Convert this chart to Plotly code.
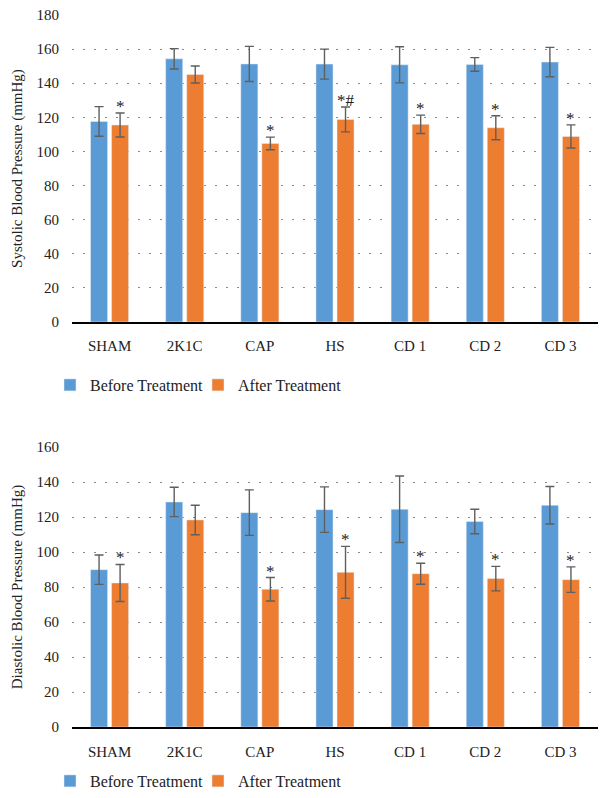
import plotly.graph_objects as go
from plotly.subplots import make_subplots

groups = ["SHAM", "2K1C", "CAP", "HS", "CD 1", "CD 2", "CD 3"]

# systolic (mmHg)
sys_before = [117.6, 154.3, 151.3, 151.2, 150.8, 151.0, 152.4]
sys_before_err = [8.7, 6.0, 10.3, 8.8, 10.6, 4.0, 8.6]
sys_after = [115.5, 145.1, 104.7, 118.8, 115.9, 113.9, 108.8]
sys_after_err = [7.0, 5.0, 3.7, 7.3, 5.4, 7.0, 6.8]
sys_marks = ["*", "", "*", "*#", "*", "*", "*"]

# diastolic (mmHg)
dia_before = [89.9, 128.6, 122.5, 124.2, 124.4, 117.4, 126.7]
dia_before_err = [8.4, 8.4, 13.0, 13.0, 19.0, 7.0, 10.7]
dia_after = [82.3, 118.3, 78.7, 88.4, 87.6, 84.8, 84.2]
dia_after_err = [10.6, 8.4, 6.7, 14.8, 6.0, 7.0, 7.3]
dia_marks = ["*", "", "*", "*", "*", "*", "*"]

BLUE = "#5B9BD5"
ORANGE = "#ED7D31"
ERR = "#5f5f5f"
FONT = "Liberation Serif"

fig = make_subplots(rows=2, cols=1)


def err(vals):
    return dict(type="data", array=vals, color=ERR, thickness=1.4, width=4.5)


panels = [
    (1, sys_before, sys_before_err, sys_after, sys_after_err, sys_marks, "legend"),
    (2, dia_before, dia_before_err, dia_after, dia_after_err, dia_marks, "legend2"),
]
for row, b, be, a, ae, marks, leg in panels:
    fig.add_trace(go.Bar(x=groups, y=b, error_y=err(be), name="Before Treatment",
                         marker_color=BLUE, legend=leg), row=row, col=1)
    fig.add_trace(go.Bar(x=groups, y=a, error_y=err(ae), name="After Treatment",
                         marker_color=ORANGE, legend=leg), row=row, col=1)
    for g, v, e, m in zip(groups, a, ae, marks):
        if m:
            fig.add_annotation(x=g, y=v + e, text=m, showarrow=False, xshift=10.5,
                               yanchor="bottom", yshift=-5, font=dict(size=17, color="#222"),
                               xref="x" if row == 1 else "x2",
                               yref="y" if row == 1 else "y2")

xdom = [72 / 609, 598 / 609]
axis_font = dict(family=FONT, size=15, color="#222")
for i, (ydom, rng, title, stand) in enumerate([
    ([(798 - 322) / 798, (798 - 15) / 798], [0, 180], "Systolic Blood Pressure (mmHg)", 9),
    ([(798 - 727) / 798, (798 - 447) / 798], [0, 160], "Diastolic Blood Pressure (mmHg)", 10),
], start=1):
    fig.update_xaxes(domain=xdom, showline=True, linecolor="black", linewidth=1.5,
                     tickfont=axis_font, ticks="", ticklabelstandoff=stand,
                     showgrid=False, row=i, col=1)
    fig.update_yaxes(domain=ydom, range=rng, dtick=20, tickfont=axis_font,
                     showgrid=True, gridcolor="#8a8a8a", griddash="2px,9px", gridwidth=1,
                     zeroline=False, showline=False, ticklabelstandoff=12,
                     title=dict(text=title, font=dict(family=FONT, size=15, color="#222"),
                                standoff=10),
                     automargin=False, row=i, col=1)

leg_common = dict(orientation="h", xanchor="left",
                  font=dict(family=FONT, size=16, color="#222"),
                  bgcolor="rgba(0,0,0,0)", itemwidth=30, traceorder="normal",
                  entrywidth=103, entrywidthmode="pixels")
fig.update_layout(
    width=609, height=798,
    margin=dict(l=0, r=0, t=0, b=0),
    plot_bgcolor="white", paper_bgcolor="white",
    barmode="group", bargap=0.44, bargroupgap=0.19,
    font=dict(family=FONT),
    showlegend=True,
    legend=dict(x=50 / 609, y=(798 - 385) / 798, yanchor="middle", **leg_common),
    legend2=dict(x=50 / 609, y=0, yanchor="bottom", **leg_common),
)

fig.write_html("out.html", config={"displayModeBar": False},
               post_script="document.body.style.margin='0';")
